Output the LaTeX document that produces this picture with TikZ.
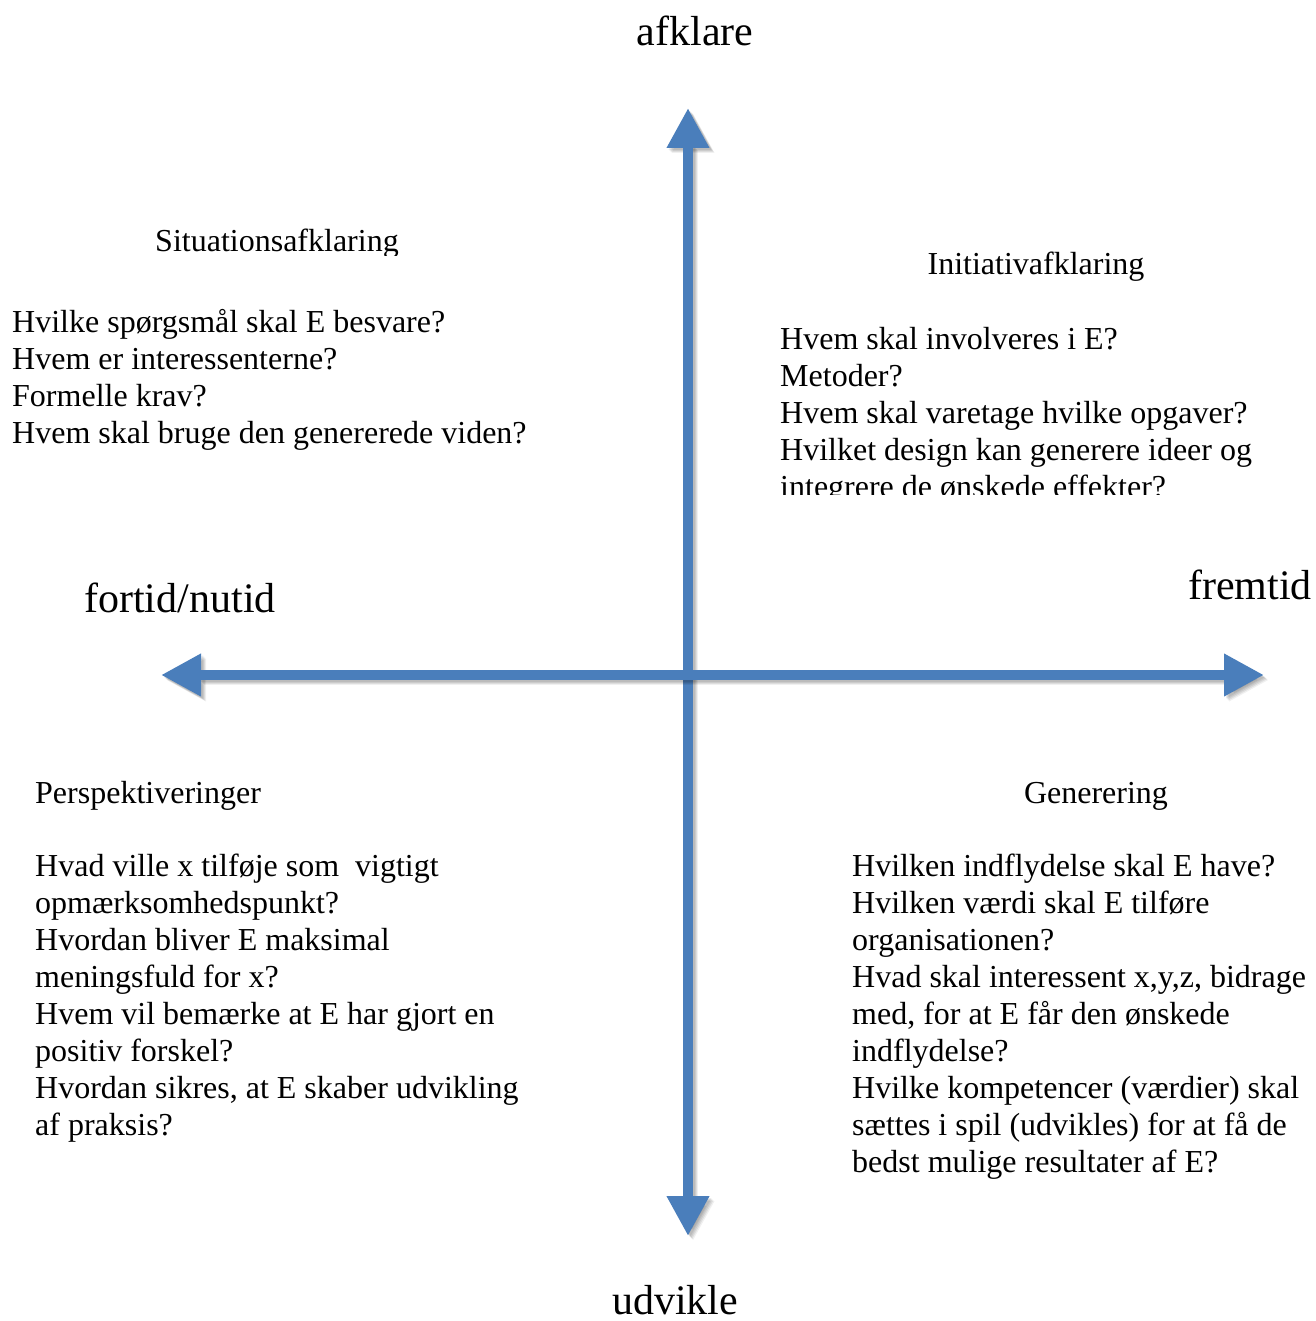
\documentclass[tikz,border=0pt]{standalone}
\usepackage{fontspec}
\setmainfont{Liberation Serif}
\usetikzlibrary{arrows.meta}
\definecolor{axisblue}{RGB}{74,126,187}
\begin{document}
\begin{tikzpicture}[x=1pt,y=-1pt,
  body/.style={inner sep=0pt, anchor=base west, font=\fontsize{32}{37.1}\selectfont},
  heading/.style={inner sep=0pt, anchor=base, font=\fontsize{32}{37.1}\selectfont},
  pole/.style={inner sep=0pt, anchor=base, font=\fontsize{42}{48}\selectfont},
  axisline/.style={line width=10pt, draw=axisblue,
    {Triangle[width=40pt,length=40pt,fill=axisblue]}-{Triangle[width=40pt,length=40pt,fill=axisblue]}},
  shadowline/.style={line width=10pt, draw=black, draw opacity=#1, fill opacity=#1,
    {Triangle[width=40pt,length=40pt,fill=black]}-{Triangle[width=40pt,length=40pt,fill=black]}},
]
\useasboundingbox[fill=white] (0,0) rectangle (1315,1321);

\coordinate (top) at (688,108);
\coordinate (bot) at (688,1236);
\coordinate (west) at (161,675);
\coordinate (east) at (1264,675);

% vertical axis with shadow
\foreach \s/\o in {2/0.08,3/0.08,4/0.08,5/0.06}{
  \draw[shadowline=\o, transform canvas={xshift=\s pt,yshift=-\s pt}] (top) -- (bot);
}
\draw[axisline] (top) -- (bot);

% horizontal axis with shadow
\foreach \s/\o in {2/0.08,3/0.08,4/0.08,5/0.06}{
  \draw[shadowline=\o, transform canvas={xshift=\s pt,yshift=-\s pt}] (west) -- (east);
}
\draw[axisline] (west) -- (east);

% pole labels
\node[pole] (afklare) at (695,46) {afklare};
\node[pole] (udvikle) at (675,1314.5) {udvikle};
\node[pole] (fortid) at (180,612) {fortid/nutid};
\node[pole] (fremtid) at (1250,599) {fremtid};

% top left
\begin{scope}
\clip (0,0) rectangle (680,256);
\node[heading] (sithead) at (277,252) {Situationsafklaring};
\end{scope}
\node[body] (sitbody) at (12,332) {\begin{tabular}[t]{@{}l@{}}
Hvilke spørgsmål skal E besvare?\\
Hvem er interessenterne?\\
Formelle krav?\\
Hvem skal bruge den genererede viden?
\end{tabular}};

% top right
\node[heading] (inihead) at (1036,275) {Initiativafklaring};
\begin{scope}
\clip (700,280) rectangle (1315,494);
\node[body] (inibody) at (780,349) {\begin{tabular}[t]{@{}l@{}}
Hvem skal involveres i E?\\
Metoder?\\
Hvem skal varetage hvilke opgaver?\\
Hvilket design kan generere ideer og\\
integrere de ønskede effekter?
\end{tabular}};
\end{scope}

% bottom left
\node[body] (perhead) at (35,803) {Perspektiveringer};
\node[body] (perbody) at (35,876) {\begin{tabular}[t]{@{}l@{}}
Hvad ville x tilføje som\ \ vigtigt\\
opmærksomhedspunkt?\\
Hvordan bliver E maksimal\\
meningsfuld for x?\\
Hvem vil bemærke at E har gjort en\\
positiv forskel?\\
Hvordan sikres, at E skaber udvikling\\
af praksis?
\end{tabular}};

% bottom right
\node[heading] (genhead) at (1096,803) {Generering};
\node[body] (genbody) at (852,876) {\begin{tabular}[t]{@{}l@{}}
Hvilken indflydelse skal E have?\\
Hvilken værdi skal E tilføre\\
organisationen?\\
Hvad skal interessent x,y,z, bidrage\\
med, for at E får den ønskede\\
indflydelse?\\
Hvilke kompetencer (værdier) skal\\
sættes i spil (udvikles) for at få de\\
bedst mulige resultater af E?
\end{tabular}};
\end{tikzpicture}
\end{document}
